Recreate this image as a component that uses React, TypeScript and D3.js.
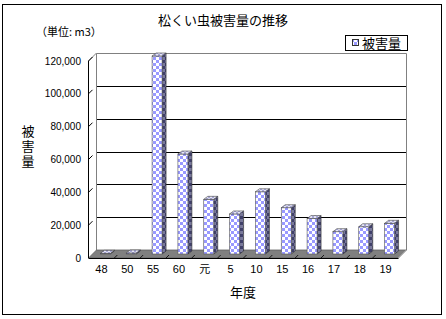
import React from "react";
import * as d3 from "d3";

const categories = ["48", "50", "55", "60", "元", "5", "10", "15", "16", "17", "18", "19"];
const damage = [400, 600, 120600, 60900, 33300, 24400, 37900, 28200, 21600, 13600, 16600, 18700];
const yTicks = [0, 20000, 40000, 60000, 80000, 100000, 120000];

const W = 446;
const H = 319;
const DEPTH = 8; // wall depth offset (px)
const FONT = "'Liberation Sans', Arial, 'Noto Sans CJK JP', sans-serif";
const JFONT = "'Noto Sans CJK JP', 'Liberation Sans', sans-serif";

export default function App() {
  const x = d3.scaleBand<string>().domain(categories).range([88.5, 398.5]).padding(0);
  const y = d3.scaleLinear().domain([0, 120000]).range([258, 61]);
  const fmt = d3.format(",");

  const x0 = 88.5;
  const x1 = 398.5;
  const bx0 = x0 + DEPTH;
  const bx1 = x1 + DEPTH;
  const yb = (v: number) => y(v) - DEPTH;

  const barW = 10;
  const bd = 4; // bar depth x
  const bdy = 3; // bar depth y

  return (
    <svg width={W} height={H} style={{ position: "absolute", left: 0, top: 0, background: "#fff" }}>
      <defs>
        <pattern id="chkFront" width={6} height={6} patternUnits="userSpaceOnUse">
          <rect width={6} height={6} fill="#ffffff" />
          <rect x={0} y={0} width={3} height={3} fill="#9999ff" />
          <rect x={3} y={3} width={3} height={3} fill="#9999ff" />
        </pattern>
        <pattern id="chkSide" width={6} height={6} patternUnits="userSpaceOnUse">
          <rect width={6} height={6} fill="#7a7a9c" />
          <rect x={0} y={0} width={3} height={3} fill="#40406a" />
          <rect x={3} y={3} width={3} height={3} fill="#40406a" />
        </pattern>
        <pattern id="chkTop" width={4} height={4} patternUnits="userSpaceOnUse">
          <rect width={4} height={4} fill="#e6e6f5" />
          <rect x={0} y={0} width={2} height={2} fill="#a8a8d8" />
          <rect x={2} y={2} width={2} height={2} fill="#a8a8d8" />
        </pattern>
      </defs>

      {/* outer border */}
      <rect x={2.5} y={4.5} width={439} height={310} fill="#fff" stroke="#000" strokeWidth={1} />

      {/* title */}
      <text x={223} y={25} textAnchor="middle" fontSize={13} fontFamily={JFONT} fill="#000">
        松くい虫被害量の推移
      </text>
      <text x={36} y={36} fontSize={11} fontFamily={JFONT} fill="#000">
        （単位: m3）
      </text>

      {/* back wall */}
      <rect x={bx0} y={yb(120000)} width={bx1 - bx0} height={yb(0) - yb(120000)} fill="#fff" />
      {yTicks.filter((t) => t > 0 && t < 120000).map((t) => (
        <line key={"g" + t} x1={bx0} x2={bx1} y1={Math.round(yb(t)) + 0.5} y2={Math.round(yb(t)) + 0.5} stroke="#000" strokeWidth={1} />
      ))}
      <path
        d={`M${bx0},${yb(0)} L${bx0},${yb(120000) + 0.5} L${bx1},${yb(120000) + 0.5} L${bx1},${yb(0)}`}
        fill="none"
        stroke="#808080"
        strokeWidth={1}
      />
      {/* side wall top edge */}
      <line x1={x0} y1={y(120000)} x2={bx0} y2={yb(120000)} stroke="#808080" strokeWidth={1} />

      {/* floor */}
      <polygon
        points={`${bx0},${yb(0)} ${bx1},${yb(0)} ${x1},${y(0)} ${x0},${y(0)}`}
        fill="#808080"
        stroke="#606060"
        strokeWidth={0.8}
      />
      <line x1={bx1} y1={yb(0)} x2={x1} y2={y(0)} stroke="#c0c0c0" strokeWidth={1} />
      {categories.map((c, i) =>
        i === 0 ? null : (
          <line key={"ft" + c} x1={x(c)!} y1={y(0)} x2={x(c)! + 3} y2={y(0) - 3} stroke="#000" strokeWidth={0.8} />
        )
      )}
      <line x1={x0} y1={y(0) + 0.5} x2={x1} y2={y(0) + 0.5} stroke="#000" strokeWidth={1} />

      {/* value axis and side-wall ticks */}
      <line x1={x0} y1={y(120000)} x2={x0} y2={y(0)} stroke="#000" strokeWidth={1} />
      {yTicks.map((t) => (
        <g key={"t" + t}>
          {t > 0 && <line x1={x0} y1={y(t)} x2={x0 + 4} y2={y(t) - 4} stroke="#000" strokeWidth={1} />}
          <text x={81} y={y(t) + 3.5} textAnchor="end" fontSize={10} fontFamily={FONT} fill="#000">
            {fmt(t)}
          </text>
        </g>
      ))}

      {/* bars */}
      {categories.map((c, i) => {
        const v = damage[i];
        const cx = x(c)! + x.bandwidth() / 2 + 4;
        const left = cx - barW / 2;
        const right = cx + barW / 2;
        const bottom = y(0) - 4;
        const top = y(v) - 4;
        return (
          <g key={"b" + c}>
            <polygon
              points={`${right},${top} ${right + bd},${top - bdy} ${right + bd},${bottom - bdy} ${right},${bottom}`}
              fill="url(#chkSide)"
              stroke="#333"
              strokeWidth={0.6}
            />
            <rect x={left} y={top} width={barW} height={Math.max(0, bottom - top)} fill="url(#chkFront)" stroke="#555" strokeWidth={0.6} />
            <polygon
              points={`${left},${top} ${left + bd},${top - bdy} ${right + bd},${top - bdy} ${right},${top}`}
              fill="url(#chkTop)"
              stroke="#444"
              strokeWidth={0.6}
            />
          </g>
        );
      })}

      {/* category labels */}
      {categories.map((c) => (
        <text key={"l" + c} x={x(c)! + x.bandwidth() / 2} y={273} textAnchor="middle" fontSize={11} fontFamily={FONT} fill="#000">
          {c}
        </text>
      ))}

      {/* axis titles */}
      <text x={243} y={297} textAnchor="middle" fontSize={13} fontFamily={JFONT} fill="#000">
        年度
      </text>
      <text
        x={28}
        y={147}
        fontSize={13}
        fontFamily={JFONT}
        fill="#000"
        textAnchor="middle"
        style={{ writingMode: "vertical-rl", letterSpacing: "2px" }}
      >
        被害量
      </text>

      {/* legend */}
      <rect x={345.5} y={35.5} width={62} height={15} fill="#fff" stroke="#000" strokeWidth={1} />
      <rect x={352.5} y={39.5} width={6} height={6} fill="url(#chkFront)" stroke="#333" strokeWidth={1} />
      <text x={362} y={47.5} fontSize={13} fontFamily={JFONT} fill="#000">
        被害量
      </text>
    </svg>
  );
}
